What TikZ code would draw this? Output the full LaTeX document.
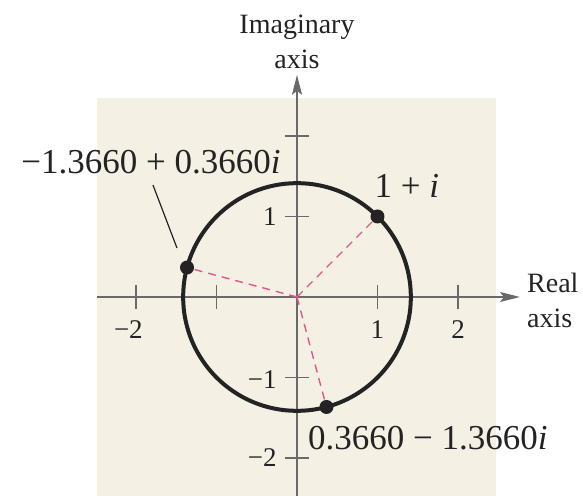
\documentclass[tikz,border=0pt]{standalone}
\usepackage{fontspec}
\setmainfont{Liberation Serif}
\usetikzlibrary{arrows.meta}
\definecolor{beige}{RGB}{244,241,228}
\definecolor{axisgray}{RGB}{105,105,105}
\definecolor{dashpink}{RGB}{222,88,138}
\definecolor{inkc}{RGB}{35,35,35}
\tikzset{
  axisline/.style={draw=axisgray, line width=1.4pt, -{Stealth[length=20pt,width=10pt,inset=4pt]}},
  tickline/.style={draw=axisgray, line width=1.4pt},
  circleline/.style={draw=inkc, line width=4pt},
  dotnode/.style={circle, fill=inkc, inner sep=0pt, minimum size=14pt},
  radial/.style={draw=dashpink, line width=1.4pt, dash pattern=on 8pt off 6pt},
  leader/.style={draw=inkc, line width=1.2pt},
  axislabel/.style={text=inkc, font=\fontsize{28}{35}\selectfont, inner sep=0pt},
  ticklabel/.style={text=inkc, font=\fontsize{27}{30}\selectfont, inner sep=0pt},
  ptlabel/.style={text=inkc, font=\fontsize{35}{40}\selectfont, inner sep=0pt}
}
\begin{document}
\begin{tikzpicture}[x=80.5pt, y=80.5pt]
\useasboundingbox (-3.6894,-2.4720) rectangle (3.5528,3.6894);
\fill[beige] (-2.484,-2.4720) rectangle (2.472,2.472);
% axes
\coordinate (O) at (0,0);
\coordinate (xl) at (-2.484,0);
\coordinate (xr) at (2.77,0);
\coordinate (yb) at (0,-2.4720);
\coordinate (yt) at (0,2.76);
\draw[axisline] (xl) -- (xr);
\draw[axisline] (yb) -- (yt);
% ticks
\foreach \t in {-2,-1,1,2}{
  \draw[tickline] (\t,-0.149) -- (\t,0.149);
  \draw[tickline] (-0.149,\t) -- (0.149,\t);
}
\node[ticklabel] (tx1) at (1,-0.41) {1};
\node[ticklabel] (tx2) at (2,-0.41) {2};
\node[ticklabel] (txm2) at (-2,-0.41) {\llap{−}2};
\node[ticklabel, anchor=east] (ty1) at (-0.25,1) {1};
\node[ticklabel, anchor=east] (tym1) at (-0.25,-1.02) {−1};
\node[ticklabel, anchor=east] (tym2) at (-0.25,-2.0) {−2};
% axis labels
\node[axislabel, align=center] (imlab) at (0,3.17) {Imaginary\\axis};
\node[axislabel, align=left, anchor=west] (relab) at (2.857,-0.04) {Real\\axis};
% circle
\draw[circleline] (O) circle (1.41421);
% point coordinates and radial dashed lines (drawn under the dots)
\coordinate (cA) at (1,1);
\coordinate (cB) at (-1.366,0.366);
\coordinate (cC) at (0.366,-1.366);
\draw[radial] (O) -- (cA);
\draw[radial] (O) -- (cB);
\draw[radial] (O) -- (cC);
% dots
\node[dotnode] (pA) at (cA) {};
\node[dotnode] (pB) at (cB) {};
\node[dotnode] (pC) at (cC) {};
% point labels
\node[ptlabel, anchor=base] (lA) at (1.366,1.24) {1 + \textit{i}};
\node[ptlabel, anchor=base] (lB) at (-1.814,1.54) {−1.3660 + 0.3660\textit{i}};
\node[ptlabel, anchor=base] (lC) at (1.627,-1.90) {0.3660 − 1.3660\textit{i}};
% leader line
\coordinate (ldA) at (-1.789,1.391);
\coordinate (ldB) at (-1.491,0.609);
\draw[leader] (ldA) -- (ldB);
\end{tikzpicture}
\end{document}
